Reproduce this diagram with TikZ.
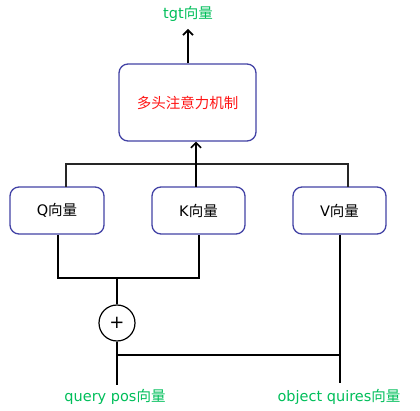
\documentclass[tikz,border=0pt]{standalone}
\usepackage{fontspec}
\setmainfont{DejaVu Sans}
\newfontfamily\cjk{Noto Sans CJK SC}
\usetikzlibrary{arrows.meta}
\definecolor{boxblue}{RGB}{66,66,165}
\definecolor{txtgreen}{RGB}{0,190,90}
\definecolor{txtred}{RGB}{255,20,20}
\tikzset{
  vbox/.style={draw=boxblue, line width=1.3pt, rounded corners=9pt, inner sep=0pt, align=center, font=\fontsize{14.5}{17}\selectfont},
  lbl/.style={text=txtgreen, inner sep=0pt, font=\fontsize{14.5}{17}\selectfont},
  wire/.style={line width=1.9pt, black},
  thinwire/.style={line width=1.2pt, black!85},
  arr/.style={-{Straight Barb[length=5pt,width=10pt,line width=1.6pt]}},
}
\begin{document}
\begin{tikzpicture}[x=1pt,y=-1pt]
\useasboundingbox (0,0) rectangle (420,411);
\node[vbox, minimum width=137pt, minimum height=77pt, text=txtred] (att) at (187.5,102.5) {\cjk 多头注意力机制};
\node[vbox, minimum width=94pt, minimum height=47pt] (Q) at (57,210.5) {Q{\cjk 向量}};
\node[vbox, minimum width=93pt, minimum height=47pt] (K) at (198.5,210.5) {K{\cjk 向量}};
\node[vbox, minimum width=93pt, minimum height=47pt] (V) at (339.5,210.5) {V{\cjk 向量}};
\node[draw, circle, line width=1.2pt, minimum size=36pt, inner sep=0pt, font=\fontsize{18}{20}\selectfont] (plus) at (117,323) {+};
\node[lbl] (tgt) at (188,14) {tgt{\cjk 向量}};
\node[lbl] (qpos) at (115,397) {query pos{\cjk 向量}};
\node[lbl] (obj) at (339,397) {object quires{\cjk 向量}};
\coordinate (tgttip) at (188,29);
\coordinate (Qtop) at (66,187);
\coordinate (Ktop) at (196,187);
\coordinate (Vtop) at (348,187);
\coordinate (bus) at (196,164);
\coordinate (qkl) at (58,278);
\coordinate (qkm) at (117,278);
\coordinate (qkr) at (199,278);
\coordinate (addl) at (117,355);
\coordinate (addr) at (340,355);
\coordinate (qend) at (117,385);
\coordinate (vend) at (340,383);
% top
\draw[wire, arr] (att.north -| tgttip) -- (tgttip);
\draw[thinwire] (Qtop) |- (bus) -| (Vtop);
\draw[wire, arr] (Ktop) -- (Ktop |- att.south);
% bottom
\draw[wire] (Q.south -| qkl) -- (qkl) -- (qkr) -- (K.south -| qkr);
\draw[wire] (qkm) -- (plus.north);
\draw[wire] (plus.south) -- (qend);
\draw[wire] (addl) -- (addr);
\draw[wire] (V.south -| vend) -- (vend);
\end{tikzpicture}
\end{document}
